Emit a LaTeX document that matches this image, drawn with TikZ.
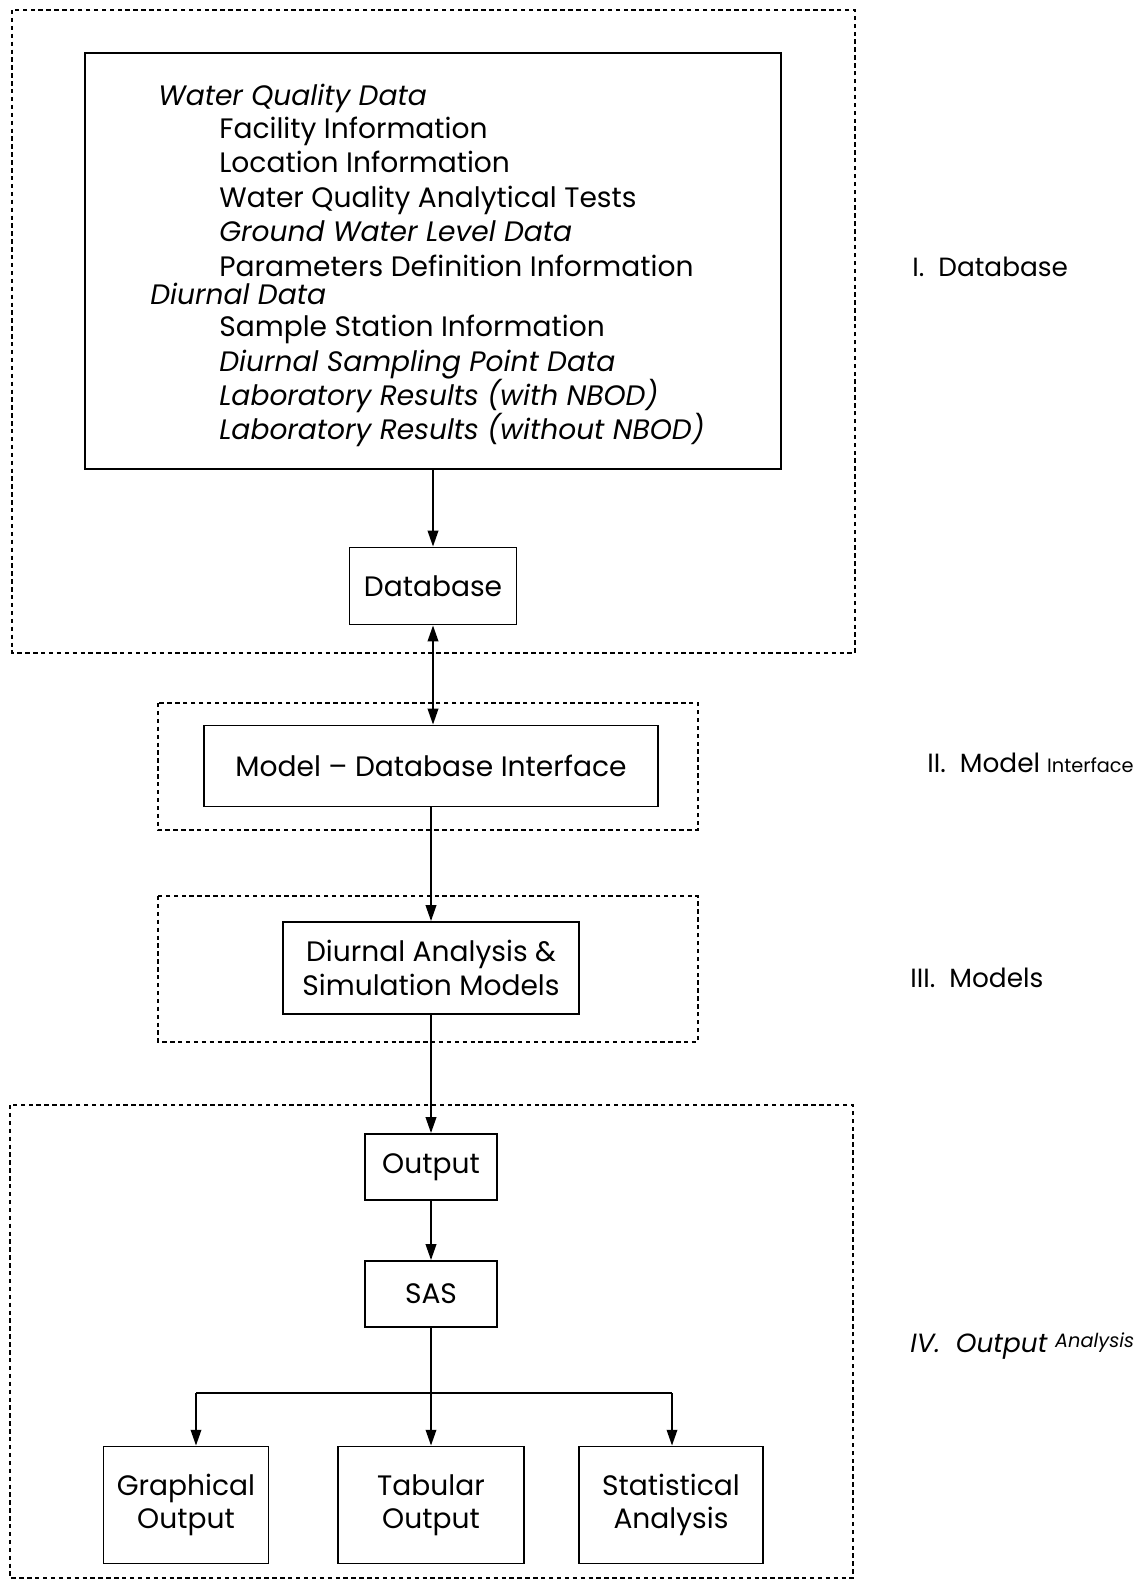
\documentclass[tikz,border=0pt]{standalone}
\usepackage{fontspec}
\setmainfont{Poppins}
\usetikzlibrary{arrows.meta, positioning}
\tikzset{
  procbox/.style={draw, line width=1.1pt, align=center, inner sep=2pt},
  zonebox/.style={draw, line width=0.8pt, dash pattern=on 2.5pt off 2pt},
  flowarrow/.style={-{Triangle[length=9pt,width=6pt]}, line width=1pt},
  dualarrow/.style={{Triangle[length=9pt,width=6pt]}-{Triangle[length=9pt,width=6pt]}, line width=1pt},
  itemtxt/.style={anchor=base west, inner sep=0pt},
  zonelabel/.style={anchor=west, inner sep=0pt, font=\fontsize{15}{18}\selectfont},
}
\newcommand{\smallword}[1]{{\fontsize{11}{13}\selectfont #1}}

\begin{document}
\begin{tikzpicture}[x=0.02cm, y=-0.02cm, every node/.style={font=\fontsize{16}{19}\selectfont}]
  \useasboundingbox (0,0) rectangle (1141,1581);
  % zones
  \draw[zonebox] (12,10) rectangle (855,653);
  \draw[zonebox] (158,703) rectangle (698,830);
  \draw[zonebox] (158,896) rectangle (698,1042);
  \draw[zonebox] (10,1105) rectangle (853,1578);
  % database tables
  \node[procbox, minimum width=13.94cm, minimum height=8.34cm] (wq) at (433,261) {};
  \node[itemtxt] (wqd) at (158,106) {\itshape Water Quality Data};
  \node[itemtxt] (fac) at (219,139) {Facility Information};
  \node[itemtxt] (loc) at (219,173) {Location Information};
  \node[itemtxt] (anl) at (219,208) {Water Quality Analytical Tests};
  \node[itemtxt] (gwl) at (219,242) {\itshape Ground Water Level Data};
  \node[itemtxt] (par) at (219,276) {Parameters Definition Information};
  \node[itemtxt] (dd) at (150,305) {\itshape Diurnal Data};
  \node[itemtxt] (sta) at (219,337) {Sample Station Information};
  \node[itemtxt] (dsp) at (219,371) {\itshape Diurnal Sampling Point Data};
  \node[itemtxt] (lw) at (219,405) {\itshape Laboratory Results (with NBOD)};
  \node[itemtxt] (lwo) at (219,439) {\itshape Laboratory Results (without NBOD)};
  % flow
  \node[procbox, minimum width=3.34cm, minimum height=1.54cm] (db) at (433,586) {Database};
  \node[procbox, minimum width=9.1cm, minimum height=1.62cm] (mdi) at (431,766) {Model -- Database Interface};
  \node[procbox, minimum width=5.92cm, minimum height=1.84cm] (dam) at (431,968) {Diurnal Analysis \&\\Simulation Models};
  \node[procbox, minimum width=2.64cm, minimum height=1.32cm] (out) at (431,1167) {Output};
  \node[procbox, minimum width=2.64cm, minimum height=1.32cm] (sas) at (431,1294) {SAS};
  \node[procbox, minimum width=3.3cm, minimum height=2.34cm] (gro) at (186,1505) {Graphical\\Output};
  \node[procbox, minimum width=3.72cm, minimum height=2.34cm] (tbo) at (431,1505) {Tabular\\Output};
  \node[procbox, minimum width=3.68cm, minimum height=2.34cm] (sta2) at (671,1505) {Statistical\\Analysis};
  \coordinate (jl) at (196,1393);
  \coordinate (jr) at (672,1393);
  \draw[flowarrow] (wq.south -| db.north) -- (db.north);
  \draw[dualarrow] (db.south) -- (db.south |- mdi.north);
  \draw[flowarrow] (mdi.south -| dam.north) -- (dam.north);
  \draw[flowarrow] (dam.south) -- (out.north);
  \draw[flowarrow] (out.south) -- (sas.north);
  \draw[flowarrow] (sas.south) -- (tbo.north);
  \draw[line width=1pt] (jl) -- (jr);
  \draw[flowarrow] (jl) -- (jl |- gro.north);
  \draw[flowarrow] (jr) -- (jr |- sta2.north);
  % zone labels
  \node[zonelabel] (lab1) at (912,267) {I.\ \ Database};
  \node[zonelabel] (lab2) at (927,763) {II.\ \ Model \smallword{Interface}};
  \node[zonelabel] (lab3) at (910,978) {III.\ \ Models};
  \node[zonelabel] (lab4) at (910,1346) {\itshape IV.\ \ Output \raisebox{3pt}{\smallword{Analysis}}};
\end{tikzpicture}
\end{document}
